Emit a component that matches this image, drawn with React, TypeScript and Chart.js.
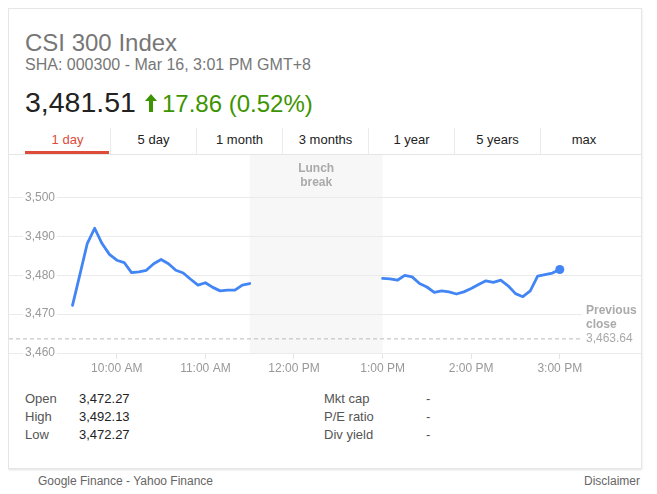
import React, { useEffect, useRef } from "react";
import { Chart, registerables } from "chart.js";

Chart.register(...registerables);

const FONT = 'Arial, "Liberation Sans", sans-serif';

const morningTimes = [
  "9:30", "9:35", "9:40", "9:45", "9:50", "9:55", "10:00", "10:05", "10:10", "10:15",
  "10:20", "10:25", "10:30", "10:35", "10:40", "10:45", "10:50", "10:55", "11:00", "11:05",
  "11:10", "11:15", "11:20", "11:25", "11:30",
];
const morningValues = [
  3472.27, 3480.2, 3488.2, 3492.13, 3488.2, 3485.4, 3483.9, 3483.3, 3480.7, 3480.9,
  3481.3, 3483.0, 3484.1, 3483.0, 3481.3, 3480.6, 3479.0, 3477.5, 3478.1, 3476.9,
  3476.0, 3476.2, 3476.2, 3477.5, 3477.9,
];
const afternoonTimes = [
  "13:00", "13:05", "13:10", "13:15", "13:20", "13:25", "13:30", "13:35", "13:40", "13:45",
  "13:50", "13:55", "14:00", "14:05", "14:10", "14:15", "14:20", "14:25", "14:30", "14:35",
  "14:40", "14:45", "14:50", "14:55", "15:00",
];
const afternoonValues = [
  3479.2, 3479.1, 3478.75, 3480.0, 3479.6, 3477.9, 3477.0, 3475.6, 3476.0, 3475.75,
  3475.2, 3475.75, 3476.6, 3477.65, 3478.6, 3478.2, 3478.75, 3477.3, 3475.3, 3474.5,
  3476.0, 3479.8, 3480.2, 3480.6, 3481.51,
];

const previousClose = 3463.64;
const previousCloseLabel = "3,463.64";
const yTickValues = [3460, 3470, 3480, 3490, 3500];
const yRange = [3460, 3511];
const xRange = ["8:47", "15:55"];
const xTickTimes = ["10:00", "11:00", "12:00", "13:00", "14:00", "15:00"];
const xTickLabels = ["10:00 AM", "11:00 AM", "12:00 PM", "1:00 PM", "2:00 PM", "3:00 PM"];
const lunchWindow = ["11:30", "13:00"];

const tabs = ["1 day", "5 day", "1 month", "3 months", "1 year", "5 years", "max"];
const statLabelsLeft = ["Open", "High", "Low"];
const statValuesLeft = ["3,472.27", "3,492.13", "3,472.27"];
const statLabelsRight = ["Mkt cap", "P/E ratio", "Div yield"];
const statValuesRight = ["-", "-", "-"];

const toMin = (s: string) => {
  const [h, m] = s.split(":").map(Number);
  return h * 60 + m;
};

const sessionPlugin = {
  id: "session",
  beforeDraw(chart: any) {
    const { ctx, chartArea, scales } = chart;
    const x = scales.x;
    const x0 = x.getPixelForValue(toMin(lunchWindow[0]));
    const x1 = x.getPixelForValue(toMin(lunchWindow[1]));
    ctx.save();
    ctx.fillStyle = "#f7f7f7";
    ctx.fillRect(x0, chartArea.top, x1 - x0, chartArea.bottom - chartArea.top);
    ctx.fillStyle = "#aaaaaa";
    ctx.font = `bold 12px ${FONT}`;
    ctx.textAlign = "center";
    ctx.textBaseline = "middle";
    const cx = (x0 + x1) / 2;
    ctx.fillText("Lunch", cx, chartArea.top + 14);
    ctx.fillText("break", cx, chartArea.top + 28);
    ctx.restore();
  },
  afterDraw(chart: any) {
    const { ctx, chartArea, scales } = chart;
    const yp = scales.y.getPixelForValue(previousClose);
    const left = chartArea.right - 59;
    ctx.save();
    ctx.fillStyle = "#ffffff";
    ctx.fillRect(left, yp - 36, chartArea.right - left, 44);
    ctx.fillStyle = "#aaaaaa";
    ctx.textAlign = "left";
    ctx.textBaseline = "middle";
    ctx.font = `bold 12px ${FONT}`;
    ctx.fillText("Previous", left + 4, yp - 28);
    ctx.fillText("close", left + 4, yp - 14);
    ctx.font = `12px ${FONT}`;
    ctx.fillText(previousCloseLabel, left + 4, yp);
    ctx.restore();
  },
};

function PriceChart() {
  const ref = useRef<HTMLCanvasElement | null>(null);
  useEffect(() => {
    if (!ref.current) return;
    const xMin = toMin(xRange[0]);
    const xMax = toMin(xRange[1]);
    const blue = "#4285f4";
    const lastIdx = afternoonValues.length - 1;
    const chart = new Chart(ref.current, {
      type: "line",
      data: {
        datasets: [
          {
            data: morningTimes.map((t, i) => ({ x: toMin(t), y: morningValues[i] })),
            borderColor: blue,
            borderWidth: 2.8,
            pointRadius: 0,
            tension: 0,
            borderJoinStyle: "round",
            borderCapStyle: "round",
          },
          {
            data: afternoonTimes.map((t, i) => ({ x: toMin(t), y: afternoonValues[i] })),
            borderColor: blue,
            borderWidth: 2.8,
            pointRadius: (c: any) => (c.dataIndex === lastIdx ? 4.5 : 0),
            pointBackgroundColor: blue,
            pointBorderWidth: 0,
            tension: 0,
            borderJoinStyle: "round",
            borderCapStyle: "round",
          },
          {
            data: [
              { x: xMin, y: previousClose },
              { x: xMax, y: previousClose },
            ],
            borderColor: "#bbbbbb",
            borderWidth: 1,
            borderDash: [4, 3],
            pointRadius: 0,
          },
        ],
      } as any,
      options: {
        responsive: false,
        animation: false,
        events: [],
        layout: { padding: 0, autoPadding: false },
        plugins: { legend: { display: false }, tooltip: { enabled: false } },
        scales: {
          x: {
            type: "linear",
            min: xMin,
            max: xMax,
            afterBuildTicks: (s: any) => {
              s.ticks = xTickTimes.map((t) => ({ value: toMin(t) }));
            },
            afterFit: (s: any) => {
              s.height = 24;
              s.paddingLeft = 0;
              s.paddingRight = 0;
            },
            grid: { drawOnChartArea: false, drawTicks: true, tickLength: 6, color: "#e5e5e5" },
            border: { display: false },
            ticks: {
              autoSkip: false,
              maxRotation: 0,
              padding: 2,
              color: "#999999",
              font: { family: FONT, size: 12 },
              callback: (v: any) => xTickLabels[xTickTimes.findIndex((t) => toMin(t) === v)],
            },
          },
          y: {
            type: "linear",
            min: yRange[0],
            max: yRange[1],
            afterBuildTicks: (s: any) => {
              s.ticks = yTickValues.map((v) => ({ value: v }));
            },
            afterFit: (s: any) => {
              s.width = 0;
              s.paddingTop = 0;
              s.paddingBottom = 0;
            },
            grid: { drawTicks: false, color: "#ebebeb" },
            border: { display: false },
            ticks: {
              mirror: true,
              padding: 16,
              color: "#999999",
              font: { family: FONT, size: 12 },
              showLabelBackdrop: true,
              backdropColor: "#ffffff",
              backdropPadding: { top: 0, bottom: 0, left: 2, right: 2 },
              callback: (v: any) => Number(v).toLocaleString("en-US"),
            },
          },
        },
      } as any,
      plugins: [sessionPlugin],
    });
    return () => chart.destroy();
  }, []);
  return (
    <canvas
      ref={ref}
      width={632}
      height={222}
      style={{ position: "absolute", left: 0, top: 146, width: 632, height: 222 }}
    />
  );
}

export default function App() {
  const abs = (o: any) => ({ position: "absolute" as const, ...o });
  return (
    <div style={{ position: "relative", width: 634, height: 480, fontFamily: FONT }}>
      <div
        style={abs({
          left: 0,
          top: 0,
          width: 634,
          height: 461,
          boxSizing: "border-box",
          border: "1px solid #e6e6e6",
          boxShadow: "0 1px 2px rgba(0,0,0,0.12)",
          background: "#fff",
        })}
      >
        <div style={abs({ left: 16, top: 22, fontSize: 24, lineHeight: "24px", color: "#777", whiteSpace: "nowrap" })}>
          CSI 300 Index
        </div>
        <div style={abs({ left: 16, top: 48, fontSize: 16, lineHeight: "16px", color: "#777", whiteSpace: "nowrap" })}>
          SHA: 000300 - Mar 16, 3:01 PM GMT+8
        </div>
        <div style={abs({ left: 16, top: 79, fontSize: 28.5, lineHeight: "28px", color: "#222", whiteSpace: "nowrap" })}>
          <span>3,481.51</span>
          <svg width="12" height="18" viewBox="0 0 12 18" style={{ marginLeft: 9, marginRight: 5, verticalAlign: "baseline" }}>
            <path d="M6 0 L12 7 L8 7 L8 18 L4 18 L4 7 L0 7 Z" fill="#3d9400" />
          </svg>
          <span style={{ fontSize: 24, color: "#3d9400" }}>17.86 (0.52%)</span>
        </div>
        <div style={abs({ left: 16, top: 119, height: 26, display: "flex" })}>
          {tabs.map((t, i) => (
            <div
              key={t}
              style={{
                position: "relative",
                width: 86,
                height: 26,
                boxSizing: "border-box",
                borderRight: i < tabs.length - 1 ? "1px solid #ebebeb" : "none",
                display: "flex",
                alignItems: "center",
                justifyContent: "center",
                paddingBottom: 4,
                fontSize: 13,
                color: i === 0 ? "#dd4b39" : "#222",
              }}
            >
              {t}
              {i === 0 && (
                <div style={abs({ left: 0, right: 1, bottom: 0, height: 3, background: "#dd4b39" })} />
              )}
            </div>
          ))}
        </div>
        <div style={abs({ left: 0, top: 145, width: 632, height: 1, background: "#e5e5e5" })} />
        <PriceChart />
        {statLabelsLeft.map((l, i) => (
          <React.Fragment key={l}>
            <div style={abs({ left: 16, top: 381 + i * 18, fontSize: 13, lineHeight: "18px", color: "#555" })}>{l}</div>
            <div style={abs({ left: 70, top: 381 + i * 18, fontSize: 13, lineHeight: "18px", color: "#222" })}>
              {statValuesLeft[i]}
            </div>
            <div style={abs({ left: 315, top: 381 + i * 18, fontSize: 13, lineHeight: "18px", color: "#555" })}>
              {statLabelsRight[i]}
            </div>
            <div style={abs({ left: 417, top: 381 + i * 18, fontSize: 13, lineHeight: "18px", color: "#555" })}>
              {statValuesRight[i]}
            </div>
          </React.Fragment>
        ))}
      </div>
      <div style={abs({ left: 30, top: 466, fontSize: 12, lineHeight: "14px", color: "#666", whiteSpace: "nowrap" })}>
        Google Finance - Yahoo Finance
      </div>
      <div style={abs({ right: 2, top: 466, fontSize: 12, lineHeight: "14px", color: "#666", whiteSpace: "nowrap" })}>
        Disclaimer
      </div>
    </div>
  );
}
